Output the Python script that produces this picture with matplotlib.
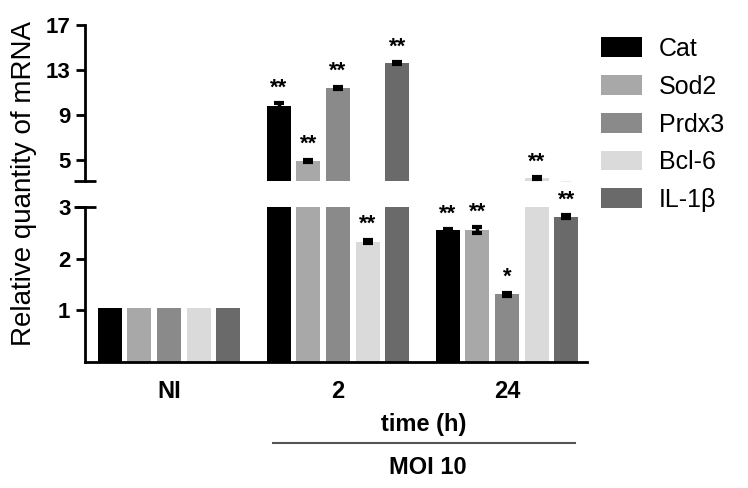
import matplotlib
matplotlib.use("Agg")
import matplotlib.pyplot as plt
import numpy as np

plt.rcParams['font.family'] = ['Liberation Sans', 'DejaVu Sans']

groups = ["NI", "2", "24"]
genes = ["Cat", "Sod2", "Prdx3", "Bcl-6", "IL-1β"]
colors = ["#000000", "#a8a8a8", "#8a8a8a", "#dadada", "#6a6a6a"]

values = {
    "Cat":   [1.04, 9.8, 2.55],
    "Sod2":  [1.04, 4.9, 2.55],
    "Prdx3": [1.04, 11.4, 1.31],
    "Bcl-6": [1.04, 2.33, 3.4],
    "IL-1β": [1.04, 13.6, 2.81],
}
errors = {
    "Cat":   [np.nan, 0.25, 0.02],
    "Sod2":  [np.nan, 0.12, 0.06],
    "Prdx3": [np.nan, 0.10, 0.03],
    "Bcl-6": [np.nan, 0.03, 0.05],
    "IL-1β": [np.nan, 0.10, 0.03],
}
stars = {
    "Cat":   ["", "**", "**"],
    "Sod2":  ["", "**", "**"],
    "Prdx3": ["", "**", "*"],
    "Bcl-6": ["", "**", "**"],
    "IL-1β": ["", "**", "**"],
}

lower_ticks = [1, 2, 3]
upper_ticks = [5, 9, 13, 17]
lower_lim = (0, 3)
upper_lim = (3.13, 17)

W, H = 748, 488
fig = plt.figure(figsize=(W / 100, H / 100), dpi=100)

left = 85 / W
width = (587 - 85) / W
ax_lo = fig.add_axes([left, 1 - 362 / H, width, (362 - 207) / H])
ax_hi = fig.add_axes([left, 1 - 181 / H, width, (181 - 25) / H])

x = np.arange(len(groups))
step = 0.175
bw = 0.142
xlim = (-0.497, 2.473)

handles = []
for i, g in enumerate(genes):
    xs = x + (i - 2) * step
    for ax in (ax_lo, ax_hi):
        b = ax.bar(xs, values[g], bw, color=colors[i], label=g,
                   yerr=errors[g], capsize=3.5,
                   error_kw=dict(ecolor="black", elinewidth=2.5, capthick=3))
        if ax is ax_lo:
            handles.append(b)
    for xv, v, e, s in zip(xs, values[g], errors[g], stars[g]):
        if not s:
            continue
        ax = ax_hi if v > upper_lim[0] else ax_lo
        ax.annotate(s, (xv, v + e), xytext=(0, 3.5), textcoords="offset points",
                    ha="center", va="bottom", fontsize=16, fontweight="bold",
                    annotation_clip=False)

for ax in (ax_lo, ax_hi):
    ax.set_xlim(*xlim)
    for sp in ("top", "right"):
        ax.spines[sp].set_visible(False)
    ax.spines["left"].set_linewidth(2)
    ax.tick_params(axis="y", width=2, length=6.5, labelsize=16, pad=4)

ax_lo.set_ylim(*lower_lim)
ax_lo.set_yticks(lower_ticks)
ax_lo.set_yticklabels([str(t) for t in lower_ticks], fontweight="bold")
ax_lo.spines["bottom"].set_linewidth(2)
ax_lo.set_xticks(x)
ax_lo.set_xticklabels(groups, fontsize=17, fontweight="bold")
ax_lo.tick_params(axis="x", length=0, pad=13)

ax_hi.set_ylim(*upper_lim)
ax_hi.set_yticks(upper_ticks)
ax_hi.set_yticklabels([str(t) for t in upper_ticks], fontweight="bold")
ax_hi.spines["bottom"].set_visible(False)
ax_hi.set_xticks([])

# break caps
ax_hi.plot([0], [0], transform=ax_hi.transAxes, marker="_", markersize=16,
           markeredgewidth=2, color="black", clip_on=False)
ax_lo.plot([0], [1], transform=ax_lo.transAxes, marker="_", markersize=16,
           markeredgewidth=2, color="black", clip_on=False)

fig.text(24 / W, 1 - 184 / H, "Relative quantity of mRNA", rotation=90,
         ha="center", va="center", fontsize=20)

fig.text(424 / W, 1 - 424 / H, "time (h)", ha="center", va="center",
         fontsize=17, fontweight="bold")
fig.add_artist(plt.Line2D([273 / W, 575 / W], [1 - 443 / H, 1 - 443 / H],
                          transform=fig.transFigure, color="#555555", lw=1.5))
fig.text(428 / W, 1 - 467 / H, "MOI 10", ha="center", va="center",
         fontsize=17, fontweight="bold")

fig.legend(handles=handles, labels=genes, loc="upper left",
           bbox_to_anchor=(601 / W, 1 - 37 / H), frameon=False, fontsize=18,
           handlelength=1.64, handleheight=0.84, labelspacing=0.55,
           handletextpad=0.68, borderaxespad=0, borderpad=0)

fig.savefig("out.png", dpi=100)
